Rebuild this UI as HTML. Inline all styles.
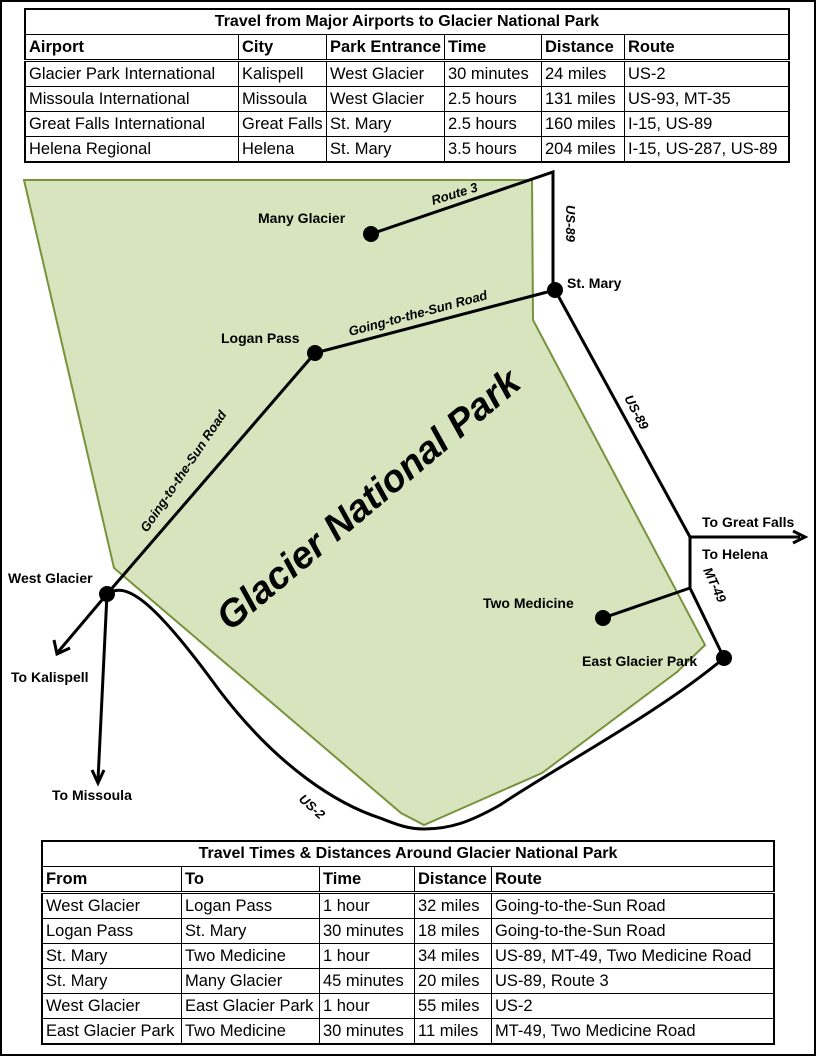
<!DOCTYPE html>
<html><head><meta charset="utf-8"><style>
html,body{margin:0;padding:0;background:#fff}
#p{position:relative;width:812px;height:1052px;border:2px solid #000;overflow:hidden;font-family:"Liberation Sans",sans-serif}
table{position:absolute;border-collapse:collapse;font-size:16.5px;color:#000;border:2px solid #000}
td{border:1px solid #000;padding:0 3px;height:24px;white-space:nowrap;line-height:22px}
td.t{text-align:center;font-weight:bold;font-size:16px}
tr.h td{font-weight:bold;border-bottom:3px double #000}
svg{position:absolute;left:0;top:0}
</style></head><body><div id="p">
<table style="left:22px;top:6px;width:766px">
<tr><td class="t" colspan="6">Travel from Major Airports to Glacier National Park</td></tr>
<tr class="h"><td style="width:206px">Airport</td><td style="width:81px">City</td><td style="width:110px">Park Entrance</td><td style="width:90px">Time</td><td style="width:76px">Distance</td><td>Route</td></tr>
<tr><td>Glacier Park International</td><td>Kalispell</td><td>West Glacier</td><td>30 minutes</td><td>24 miles</td><td>US-2</td></tr>
<tr><td>Missoula International</td><td>Missoula</td><td>West Glacier</td><td>2.5 hours</td><td>131 miles</td><td>US-93, MT-35</td></tr>
<tr><td>Great Falls International</td><td>Great Falls</td><td>St. Mary</td><td>2.5 hours</td><td>160 miles</td><td>I-15, US-89</td></tr>
<tr><td>Helena Regional</td><td>Helena</td><td>St. Mary</td><td>3.5 hours</td><td>204 miles</td><td>I-15, US-287, US-89</td></tr>
</table>
<svg width="812" height="1052" viewBox="2 2 812 1052">
<polygon points="24,180 532,180 533,320 705,645 677,672 542,773 424,825 401,813 114,568" fill="#d7e4bd" stroke="#77933c" stroke-width="2"/>
<g stroke="#000" stroke-width="3" fill="none">
<polyline points="371,234 553,172 553,290"/>
<line x1="315" y1="353" x2="555" y2="290"/>
<line x1="315" y1="353" x2="107" y2="594"/>
<polyline points="555,290 690,537 690,588 724,658"/>
<line x1="690" y1="537" x2="800" y2="537"/>
<line x1="603" y1="618" x2="690" y2="588"/>
<line x1="107" y1="594" x2="58" y2="652"/>
<line x1="107" y1="594" x2="98" y2="780"/>
<path d="M107,594 C125,582 150,595 219,690 C280,770 340,805 380,818 C400,826 410,829 424,829 C450,829 470,822 500,805 C560,765 660,712 724,658"/>
<polyline points="793,531 805,537 793,543"/>
<polyline points="54,640 57,654 70,648"/>
<polyline points="92,770 98,783 104,770"/>
</g>
<g fill="#000"><circle cx="371" cy="234" r="8"/><circle cx="555" cy="290" r="8"/><circle cx="315" cy="353" r="8"/><circle cx="107" cy="594" r="8"/><circle cx="603" cy="618" r="8"/><circle cx="724" cy="658" r="8"/></g>
<g font-family="Liberation Sans,sans-serif" font-weight="bold" font-size="14">
<text x="258" y="223">Many Glacier</text>
<text x="567" y="288">St. Mary</text>
<text x="221" y="343">Logan Pass</text>
<text x="8" y="583">West Glacier</text>
<text x="11" y="682">To Kalispell</text>
<text x="52" y="800">To Missoula</text>
<text x="483" y="608">Two Medicine</text>
<text x="582" y="666">East Glacier Park</text>
<text x="702" y="527">To Great Falls</text>
<text x="702" y="559">To Helena</text>
<g font-style="italic" font-weight="bold" font-size="13">
<text transform="translate(433,205) rotate(-17)">Route 3</text>
<text transform="translate(566,205) rotate(90)">US-89</text>
<text transform="translate(350,336) rotate(-15)">Going-to-the-Sun Road</text>
<text transform="translate(147,533) rotate(-56)">Going-to-the-Sun Road</text>
<text transform="translate(624,398) rotate(62)">US-89</text>
<text transform="translate(703,570) rotate(65)">MT-49</text>
<text transform="translate(298,800) rotate(42)">US-2</text>
</g>
<text transform="translate(230,632) rotate(-40)" font-size="38" font-style="italic">Glacier National Park</text>
</g>
</svg>
<table style="left:39px;top:838px;width:734px">
<tr><td class="t" colspan="5">Travel Times &amp; Distances Around Glacier National Park</td></tr>
<tr class="h"><td style="width:132px">From</td><td style="width:131px">To</td><td style="width:88px">Time</td><td style="width:70px">Distance</td><td>Route</td></tr>
<tr><td>West Glacier</td><td>Logan Pass</td><td>1 hour</td><td>32 miles</td><td>Going-to-the-Sun Road</td></tr>
<tr><td>Logan Pass</td><td>St. Mary</td><td>30 minutes</td><td>18 miles</td><td>Going-to-the-Sun Road</td></tr>
<tr><td>St. Mary</td><td>Two Medicine</td><td>1 hour</td><td>34 miles</td><td>US-89, MT-49, Two Medicine Road</td></tr>
<tr><td>St. Mary</td><td>Many Glacier</td><td>45 minutes</td><td>20 miles</td><td>US-89, Route 3</td></tr>
<tr><td>West Glacier</td><td>East Glacier Park</td><td>1 hour</td><td>55 miles</td><td>US-2</td></tr>
<tr><td>East Glacier Park</td><td>Two Medicine</td><td>30 minutes</td><td>11 miles</td><td>MT-49, Two Medicine Road</td></tr>
</table>
</div></body></html>
